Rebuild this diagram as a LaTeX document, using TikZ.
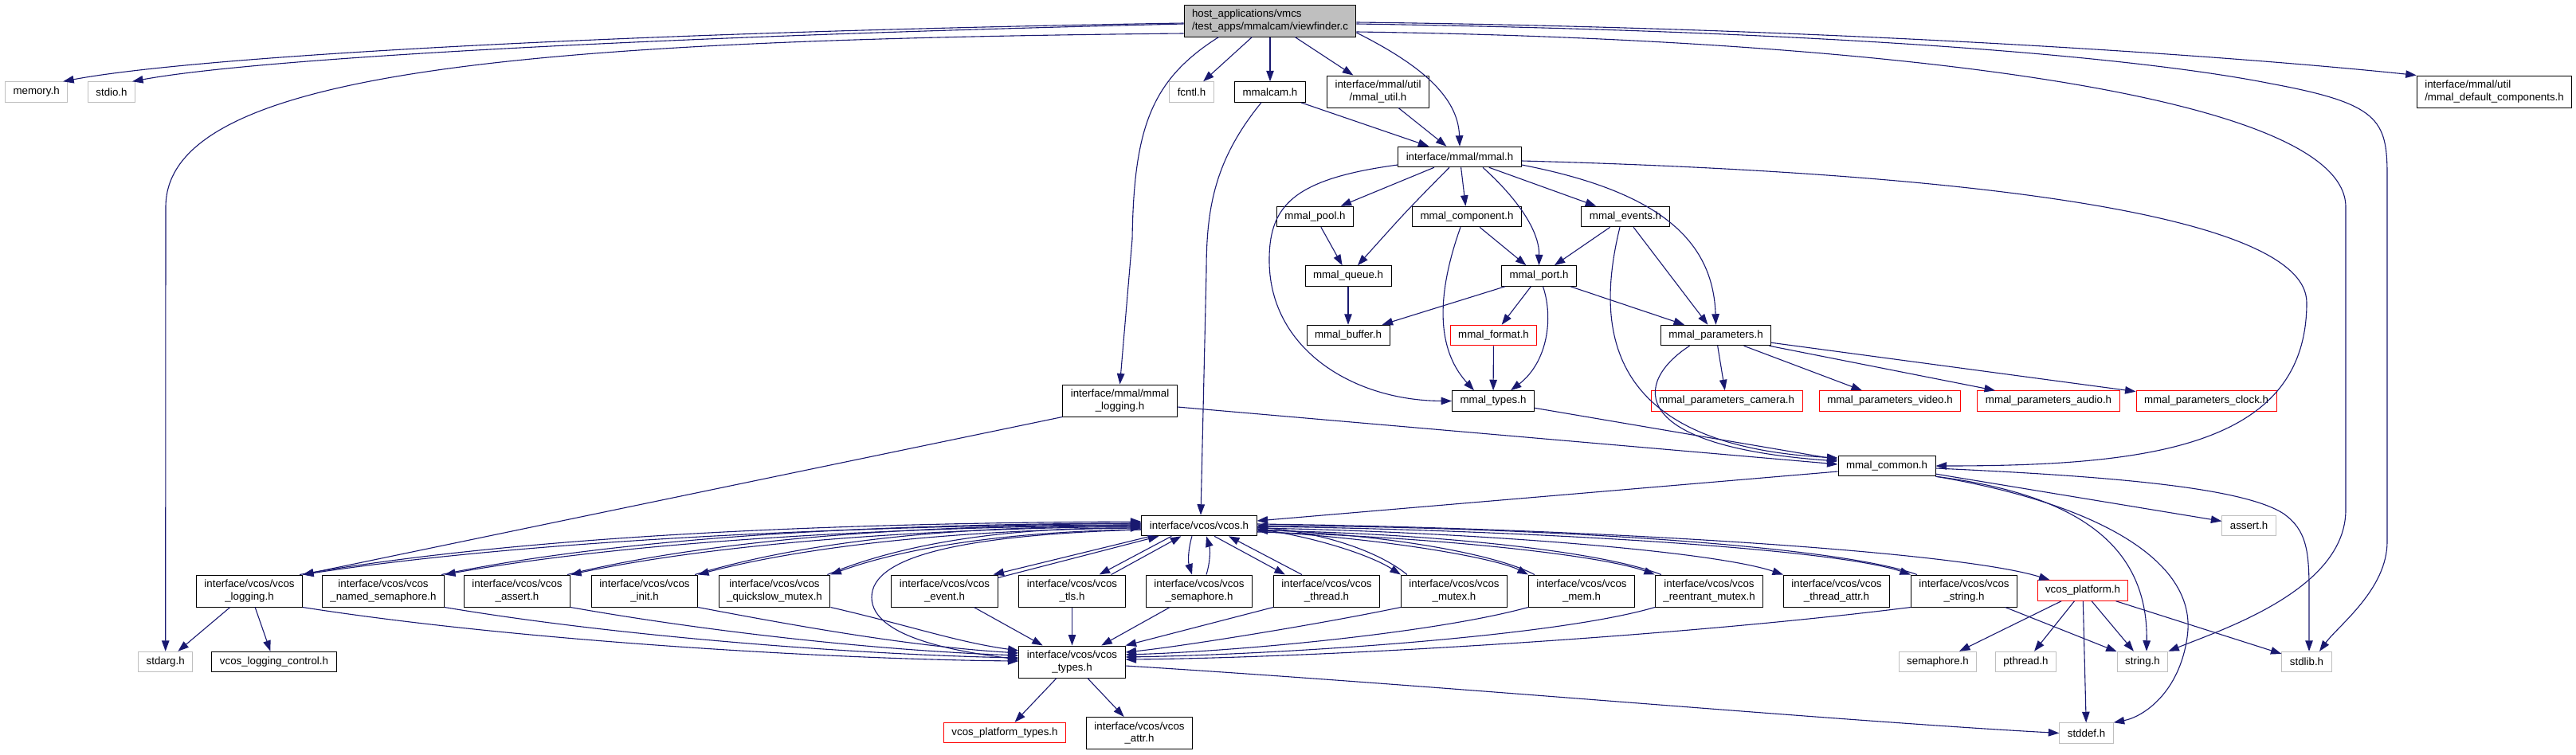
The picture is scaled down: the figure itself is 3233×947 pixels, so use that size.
\documentclass[tikz,border=0pt]{standalone}
\usepackage{fontspec}
\setmainfont{Liberation Sans}
\usetikzlibrary{arrows.meta}
\definecolor{edgec}{RGB}{25,25,112}
\definecolor{grayb}{RGB}{191,191,191}
\begin{document}
\begin{tikzpicture}[x=1bp,y=-1bp,
 nbase/.style={draw,rectangle,line width=1bp,inner xsep=10bp,inner ysep=2bp,minimum height=25.5bp,font=\fontsize{13.3bp}{15.3bp}\selectfont,text=black,fill=white},
 bn/.style={nbase,draw=black},
 gn/.style={nbase,draw=grayb},
 rn/.style={nbase,draw=red},
 bn2/.style={nbase,draw=black,minimum height=40bp,align=center},
 mainn/.style={nbase,draw=black,fill=grayb,minimum height=40bp,align=left},
 edg/.style={draw=edgec,line width=1.1bp,-{Triangle[length=13.5bp,width=9.5bp]}}]
\useasboundingbox (0,0) rectangle (3233,947);
% ---------- nodes ----------
\node[mainn] (main) at (1594,26) {host\_applications/vmcs\\/test\_apps/mmalcam/viewfinder.c};
\node[gn] (memory) at (45.6,115.5) {memory.h};
\node[gn] (stdio) at (140,115.5) {stdio.h};
\node[gn] (fcntl) at (1495.5,115.5) {fcntl.h};
\node[bn] (mmalcam) at (1594,115.5) {mmalcam.h};
\node[bn2] (mmalutil) at (1729.5,115) {interface/mmal/util\\/mmal\_util.h};
\node[bn2,align=left] (defcomp) at (3130.5,115) {interface/mmal/util\\/mmal\_default\_components.h};
\node[bn] (mmal) at (1832,197) {interface/mmal/mmal.h};
\node[bn] (pool) at (1650.5,272) {mmal\_pool.h};
\node[bn] (component) at (1841,272) {mmal\_component.h};
\node[bn] (events) at (2040,272) {mmal\_events.h};
\node[bn] (queue) at (1692,346.5) {mmal\_queue.h};
\node[bn] (port) at (1931.5,346.5) {mmal\_port.h};
\node[bn] (buffer) at (1692,421) {mmal\_buffer.h};
\node[rn] (format) at (1874.5,421) {mmal\_format.h};
\node[bn] (params) at (2153.5,421) {mmal\_parameters.h};
\node[bn] (types) at (1874,503.5) {mmal\_types.h};
\node[bn2] (logmmal) at (1405.5,503) {interface/mmal/mmal\\\_logging.h};
\node[rn] (pcamera) at (2167,503.5) {mmal\_parameters\_camera.h};
\node[rn] (pvideo) at (2372,503.5) {mmal\_parameters\_video.h};
\node[rn] (paudio) at (2571,503.5) {mmal\_parameters\_audio.h};
\node[rn] (pclock) at (2769,503.5) {mmal\_parameters\_clock.h};
\node[bn] (common) at (2368,585) {mmal\_common.h};
\node[bn] (vcos) at (1505,660) {interface/vcos/vcos.h};
\node[gn] (assert) at (2822.5,660) {assert.h};
\node[bn2] (vlogging) at (313,742) {interface/vcos/vcos\\\_logging.h};
\node[bn2] (vnamedsem) at (481,742) {interface/vcos/vcos\\\_named\_semaphore.h};
\node[bn2] (vassert) at (649,742) {interface/vcos/vcos\\\_assert.h};
\node[bn2] (vinit) at (809,742) {interface/vcos/vcos\\\_init.h};
\node[bn2] (vqsmutex) at (972,742) {interface/vcos/vcos\\\_quickslow\_mutex.h};
\node[bn2] (vevent) at (1185.5,742) {interface/vcos/vcos\\\_event.h};
\node[bn2] (vtls) at (1345.5,742) {interface/vcos/vcos\\\_tls.h};
\node[bn2] (vsem) at (1505,742) {interface/vcos/vcos\\\_semaphore.h};
\node[bn2] (vthread) at (1665,742) {interface/vcos/vcos\\\_thread.h};
\node[bn2] (vmutex) at (1825,742) {interface/vcos/vcos\\\_mutex.h};
\node[bn2] (vmem) at (1985,742) {interface/vcos/vcos\\\_mem.h};
\node[bn2] (vremutex) at (2145,742) {interface/vcos/vcos\\\_reentrant\_mutex.h};
\node[bn2] (vthattr) at (2305,742) {interface/vcos/vcos\\\_thread\_attr.h};
\node[bn2] (vstring) at (2465,742) {interface/vcos/vcos\\\_string.h};
\node[rn] (vplatform) at (2614,741.5) {vcos\_platform.h};
\node[gn] (stdarg) at (207.7,831) {stdarg.h};
\node[bn] (vlogctl) at (344,831) {vcos\_logging\_control.h};
\node[bn2] (vtypes) at (1345.5,831) {interface/vcos/vcos\\\_types.h};
\node[gn] (semaphore) at (2432,831) {semaphore.h};
\node[gn] (pthread) at (2542.5,831) {pthread.h};
\node[gn] (string) at (2689,831) {string.h};
\node[gn] (stdlib) at (2895,831) {stdlib.h};
\node[rn] (vplattypes) at (1261,920) {vcos\_platform\_types.h};
\node[bn2] (vattr) at (1430,920.5) {interface/vcos/vcos\\\_attr.h};
\node[gn] (stddef) at (2618.5,920.5) {stddef.h};
% ---------- edges from main ----------
\draw[edg] ([yshift=-3bp]main.west) .. controls (800,40) and (250,70) .. ([xshift=-6bp]memory.north east);
\draw[edg] ([yshift=-4bp]main.west) .. controls (850,45) and (330,72) .. ([xshift=-4bp]stdio.north east);
\draw[edg] ([yshift=-16bp]main.west) .. controls (650,50) and (208,90) .. (208,260) -- (stdarg.north);
\draw[edg] ([xshift=44bp]main.south west) .. controls (1445,100) and (1423,160) .. (1421,300) -- (logmmal.north);
\draw[edg] (main) -- (fcntl);
\draw[edg] (main) -- (mmalcam);
\draw[edg] (main) -- (mmalutil);
\draw[edg] ([yshift=-15bp]main.east) .. controls (1780,80) and (1830,120) .. (mmal.north);
\draw[edg] ([yshift=-2bp]main.east) .. controls (2300,35) and (2800,70) .. (defcomp.north west);
\draw[edg] ([yshift=-4bp]main.east) .. controls (2350,40) and (2700,75) .. (2850,105) .. controls (2985,130) and (2996,150) .. (2996,220) -- (2996,680) .. controls (2996,740) and (2935,785) .. ([xshift=16bp]stdlib.north);
\draw[edg] ([yshift=-14bp]main.east) .. controls (2300,48) and (2944,110) .. (2944,260) -- (2944,640) .. controls (2944,740) and (2790,790) .. (string.north east);
% ---------- mmal layer ----------
\draw[edg] (mmalcam) -- (mmal);
\draw[edg] ([xshift=-11bp]mmalcam.south) .. controls (1525,200) and (1514,260) .. (1514,340) -- ([xshift=2bp]vcos.north);
\draw[edg] (mmalutil) -- (mmal);
\draw[edg] (mmal) -- (pool);
\draw[edg] (mmal) .. controls (1765,265) .. (queue);
\draw[edg] (mmal) -- (component);
\draw[edg] (mmal) -- (events);
\draw[edg] ([xshift=29bp]mmal.south) .. controls (1905,250) and (1932,290) .. (port.north);
\draw[edg] ([yshift=-10bp]mmal.east) .. controls (2080,240) and (2150,300) .. (params.north);
\draw[edg] ([yshift=-10bp]mmal.west) .. controls (1620,225) and (1592,260) .. (1593,330) .. controls (1595,440) and (1700,503) .. (types.west);
\draw[edg] ([yshift=-5bp]mmal.east) .. controls (2400,215) and (2895,260) .. (2895,380) .. controls (2895,560) and (2700,585) .. (common.east);
\draw[edg] (pool) -- (queue);
\draw[edg] (queue) -- (buffer);
\draw[edg] (component) -- (port);
\draw[edg] ([xshift=-8bp]component.south) .. controls (1810,350) and (1795,430) .. ([xshift=-24bp]types.north);
\draw[edg] (events) -- (port);
\draw[edg] (events) -- (params);
\draw[edg] ([xshift=-7bp]events.south) .. controls (2000,420) and (2020,560) .. ([yshift=10bp]common.west);
\draw[edg] (port) -- (buffer);
\draw[edg] (port) -- (format);
\draw[edg] ([xshift=5bp]port.south) .. controls (1950,400) and (1942,455) .. ([xshift=22bp]types.north);
\draw[edg] (port) -- (params);
\draw[edg] (format) -- (types);
\draw[edg] ([xshift=-33bp]params.south) .. controls (2050,480) and (2040,560) .. ([yshift=6bp]common.west);
\draw[edg] (params) -- (pcamera);
\draw[edg] (params) -- (pvideo);
\draw[edg] (params) -- (paudio);
\draw[edg] (params) -- (pclock);
\draw[edg] (types) -- ([yshift=8bp]common.west);
\draw[edg] ([yshift=-8bp]logmmal.east) -- ([yshift=2bp]common.west);
\draw[edg] (logmmal.south west) -- (vlogging.north east);
% ---------- mmal_common ----------
\draw[edg] ([yshift=-7bp]common.west) -- ([yshift=6bp]vcos.east);
\draw[edg] (common) -- (assert);
\draw[edg] (common.south east) .. controls (2600,620) and (2696,680) .. ([xshift=5bp]string.north);
\draw[edg] (common.south east) .. controls (2620,630) and (2760,700) .. (2745,800) .. controls (2735,870) and (2690,900) .. (stddef.north east);
\draw[edg] ([yshift=-3bp]common.east) .. controls (2650,598) and (2815,612) .. (2866,645) .. controls (2894,665) and (2898,690) .. (2898,740) -- ([xshift=3bp]stdlib.north);
% ---------- vcos <-> vcos_* ----------
\draw[edg] ([yshift=-5bp]vcos.west) .. controls (1200,672) and (1094,700) .. (1094,750) .. controls (1094,800) and (1200,818) .. ([yshift=3bp]vtypes.west);
% left group
\draw[edg] ([yshift=3bp]vcos.west) .. controls (959,662) and (613,686) .. (vlogging.north east);
\draw[edg] ([xshift=-4bp]vlogging.north east) .. controls (613,680) and (959,657) .. ([yshift=5bp]vcos.west);
\draw[edg] ([yshift=1bp]vcos.west) .. controls (1038,663) and (749,687) .. (vnamedsem.north east);
\draw[edg] ([xshift=-4bp]vnamedsem.north east) .. controls (749,681) and (1038,658) .. ([yshift=3bp]vcos.west);
\draw[edg] ([yshift=-1bp]vcos.west) .. controls (1110,664) and (874,688) .. (vassert.north east);
\draw[edg] ([xshift=-4bp]vassert.north east) .. controls (874,682) and (1110,659) .. ([yshift=1bp]vcos.west);
\draw[edg] ([yshift=-3bp]vcos.west) .. controls (1182,665) and (999,689) .. (vinit.north east);
\draw[edg] ([xshift=-4bp]vinit.north east) .. controls (999,683) and (1182,660) .. ([yshift=-1bp]vcos.west);
\draw[edg] ([yshift=-5bp]vcos.west) .. controls (1257,667) and (1128,690) .. (vqsmutex.north east);
\draw[edg] ([xshift=-4bp]vqsmutex.north east) .. controls (1128,684) and (1257,662) .. ([yshift=-3bp]vcos.west);
% middle group
\draw[edg] ([xshift=12bp]vcos.south west) -- ([xshift=-6bp]vevent.north east);
\draw[edg] ([yshift=-4bp]vevent.north east) -- ([xshift=22bp]vcos.south west);
\draw[edg] ([xshift=38bp]vcos.south west) -- ([xshift=-33bp]vtls.north east);
\draw[edg] ([xshift=-18bp]vtls.north east) -- ([xshift=50bp]vcos.south west);
\draw[edg] ([xshift=-9bp]vcos.south) .. controls (1491,690) and (1491,705) .. ([xshift=-9bp]vsem.north);
\draw[edg] ([xshift=9bp]vsem.north) .. controls (1519,705) and (1519,690) .. ([xshift=9bp]vcos.south);
\draw[edg] ([xshift=19bp]vcos.south) -- ([xshift=15bp]vthread.north west);
\draw[edg] ([xshift=36bp]vthread.north west) -- ([xshift=37bp]vcos.south);
% right group
\draw[edg] ([yshift=-4bp]vcos.east) .. controls (1650,674) and (1720,697) .. (vmutex.north west);
\draw[edg] ([xshift=8bp]vmutex.north west) .. controls (1730,692) and (1660,669) .. ([yshift=-2bp]vcos.east);
\draw[edg] ([yshift=-7bp]vcos.east) .. controls (1750,677) and (1880,702) .. (vmem.north west);
\draw[edg] ([xshift=8bp]vmem.north west) .. controls (1880,697) and (1750,672) .. ([yshift=-5bp]vcos.east);
\draw[edg] ([yshift=-8bp]vcos.east) .. controls (1800,674) and (2010,697) .. (vremutex.north west);
\draw[edg] ([xshift=8bp]vremutex.north west) .. controls (2010,692) and (1800,670) .. ([yshift=-6bp]vcos.east);
\draw[edg] ([yshift=-3bp]vcos.east) .. controls (1850,668) and (2150,692) .. (vthattr.north west);
\draw[edg] ([yshift=-1bp]vcos.east) .. controls (1900,665) and (2300,688) .. (vstring.north west);
\draw[edg] ([xshift=8bp]vstring.north west) .. controls (2300,683) and (1900,661) .. ([yshift=0bp]vcos.east);
\draw[edg] ([yshift=2bp]vcos.east) .. controls (1950,662) and (2450,690) .. ([xshift=16bp]vplatform.north west);
% ---------- vcos_* -> vcos_types ----------
\draw[edg] (vlogging.south east) .. controls (650,805) and (1050,828) .. ([yshift=1bp]vtypes.west);
\draw[edg] (vnamedsem.south east) .. controls (780,800) and (1080,822) .. ([yshift=5bp]vtypes.west);
\draw[edg] (vassert.south east) .. controls (900,795) and (1110,817) .. ([yshift=8bp]vtypes.west);
\draw[edg] (vinit.south east) .. controls (1020,790) and (1150,812) .. ([yshift=11bp]vtypes.west);
\draw[edg] (vqsmutex.south east) .. controls (1140,785) and (1200,806) .. ([yshift=14bp]vtypes.west);
\draw[edg] (vevent) -- (vtypes);
\draw[edg] (vtls) -- (vtypes);
\draw[edg] (vsem) -- (vtypes);
\draw[edg] (vthread.south west) -- (vtypes.north east);
\draw[edg] (vmutex.south west) .. controls (1650,785) and (1480,812) .. ([yshift=12bp]vtypes.east);
\draw[edg] (vmem.south west) .. controls (1800,795) and (1550,818) .. ([yshift=9bp]vtypes.east);
\draw[edg] (vremutex.south west) .. controls (1950,800) and (1600,822) .. ([yshift=6bp]vtypes.east);
\draw[edg] (vstring.south west) .. controls (2100,800) and (1650,826) .. ([yshift=3bp]vtypes.east);
% ---------- lower ----------
\draw[edg] (vlogging) -- (stdarg);
\draw[edg] (vlogging) -- (vlogctl);
\draw[edg] (vtypes) -- (vplattypes);
\draw[edg] (vtypes) -- (vattr);
\draw[edg] ([yshift=-5bp]vtypes.east) .. controls (1800,860) and (2300,905) .. (stddef.west);
\draw[edg] (vplatform) -- (semaphore);
\draw[edg] (vplatform) -- (pthread);
\draw[edg] (vplatform) -- (string);
\draw[edg] (vplatform) -- (stddef);
\draw[edg] (vplatform) -- (stdlib);
\draw[edg] (vstring) -- (string);
\end{tikzpicture}
\end{document}
